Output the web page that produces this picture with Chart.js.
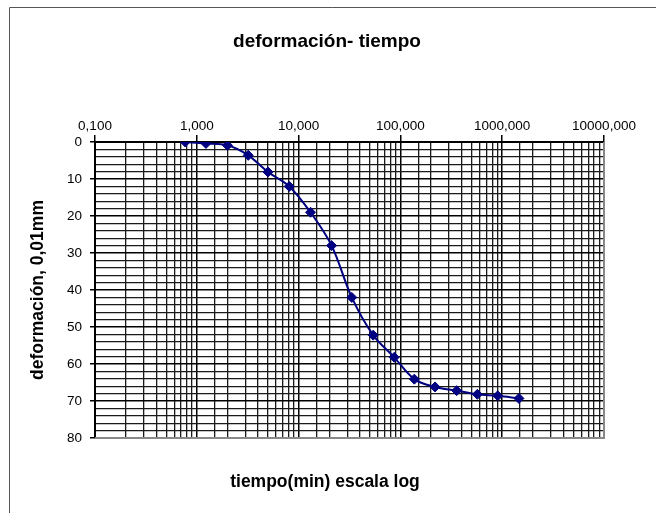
<!DOCTYPE html>
<html>
<head>
<meta charset="utf-8">
<script src="https://cdn.jsdelivr.net/npm/chart.js@4.4.1/dist/chart.umd.min.js"></script>
<style>
  html, body { margin: 0; padding: 0; background: #fff; }
  #wrap { width: 656px; height: 513px; }
</style>
</head>
<body>
<div id="wrap"><canvas id="deformChart" width="656" height="513"></canvas></div>
<script>
// lecturas del ensayo de consolidación
const tiempo = [0.77, 1.23, 2.0, 3.2, 5.0, 8.1, 13.1, 21.1, 33.3, 54, 87, 137, 219, 357, 570, 904, 1460];
const deformacion = [0, 0.4, 0.9, 3.6, 8.1, 12, 19, 28, 42, 52.2, 58.2, 64.1, 66.2, 67.2, 68.2, 68.6, 69.3];

const xMin = 0.1, xMax = 10000;
const yMin = 0, yMax = 80;

const tituloGrafico = 'deformación- tiempo';
const tituloX = 'tiempo(min) escala log';
const tituloY = 'deformación, 0,01mm';

const FONT = "'Liberation Sans', Arial, sans-serif";

function isDecade(v) {
  const l = Math.log10(v);
  return Math.abs(l - Math.round(l)) < 1e-9;
}

document.addEventListener('DOMContentLoaded', function() {
  // marco exterior, borde gris del area y titulos
  const decor = {
    id: 'decor',
    afterDraw(chart) {
      const ctx = chart.ctx;
      const a = chart.chartArea;
      ctx.save();

      ctx.strokeStyle = '#555';
      ctx.lineWidth = 1;
      ctx.beginPath();
      ctx.moveTo(9.5, 513);
      ctx.lineTo(9.5, 7.5);
      ctx.lineTo(656, 7.5);
      ctx.stroke();

      ctx.strokeStyle = '#888';
      ctx.lineWidth = 2;
      ctx.beginPath();
      ctx.moveTo(a.left, a.bottom);
      ctx.lineTo(a.right, a.bottom);
      ctx.lineTo(a.right, a.top);
      ctx.stroke();

      ctx.fillStyle = '#000';
      ctx.textAlign = 'center';
      ctx.textBaseline = 'alphabetic';
      ctx.font = 'bold 19px ' + FONT;
      ctx.fillText(tituloGrafico, 327, 47);

      ctx.font = 'bold 17.5px ' + FONT;
      ctx.fillText(tituloX, 325, 487);

      ctx.translate(43, 290);
      ctx.rotate(-Math.PI / 2);
      ctx.fillText(tituloY, 0, 0);
      ctx.restore();
    }
  };

  const ctx = document.getElementById('deformChart');
  new Chart(ctx, {
    type: 'scatter',
    data: {
      datasets: [{
        label: 'deformación',
        data: tiempo.map((t, i) => ({ x: t, y: deformacion[i] })),
        showLine: true,
        borderColor: '#000080',
        borderWidth: 2,
        backgroundColor: '#000080',
        pointStyle: 'rectRot',
        pointRadius: 5,
        pointBorderWidth: 1,
        pointBackgroundColor: '#000080',
        pointBorderColor: '#000080',
        tension: 0.35
      }]
    },
    options: {
      responsive: false,
      animation: false,
      layout: {
        padding: { left: 0, top: 0, right: 52, bottom: 75 }
      },
      plugins: {
        legend: { display: false },
        tooltip: { enabled: false }
      },
      scales: {
        x: {
          type: 'logarithmic',
          position: 'top',
          min: xMin,
          max: xMax,
          afterFit(scale) { scale.height = 142; },
          border: { color: '#000', width: 2 },
          grid: {
            color: c => (c.tick && isDecade(c.tick.value)) ? '#000' : '#1a1a1a',
            lineWidth: c => (c.tick && isDecade(c.tick.value)) ? 1.5 : 1.3,
            tickLength: 7,
            tickColor: c => (c.tick && isDecade(c.tick.value)) ? '#000' : 'rgba(0,0,0,0)'
          },
          ticks: {
            autoSkip: false,
            maxRotation: 0,
            padding: 1,
            color: '#000',
            font: { family: FONT, size: 13.5 },
            callback: v => isDecade(v) ? v.toFixed(3).replace('.', ',') : ''
          }
        },
        y: {
          type: 'linear',
          reverse: true,
          min: yMin,
          max: yMax,
          afterFit(scale) { scale.width = 95; },
          border: { color: '#000', width: 2 },
          grid: {
            color: c => (c.tick && c.tick.value % 10 === 0) ? '#000' : '#1a1a1a',
            lineWidth: c => (c.tick && c.tick.value % 10 === 0) ? 1.5 : 1.3,
            tickLength: 5,
            tickColor: c => (c.tick && c.tick.value % 10 === 0) ? '#000' : 'rgba(0,0,0,0)'
          },
          ticks: {
            stepSize: 2,
            autoSkip: false,
            padding: 8,
            color: '#000',
            font: { family: FONT, size: 13.5 },
            callback: v => v % 10 === 0 ? v : ''
          }
        }
      }
    },
    plugins: [decor]
  });
});
</script>
</body>
</html>
